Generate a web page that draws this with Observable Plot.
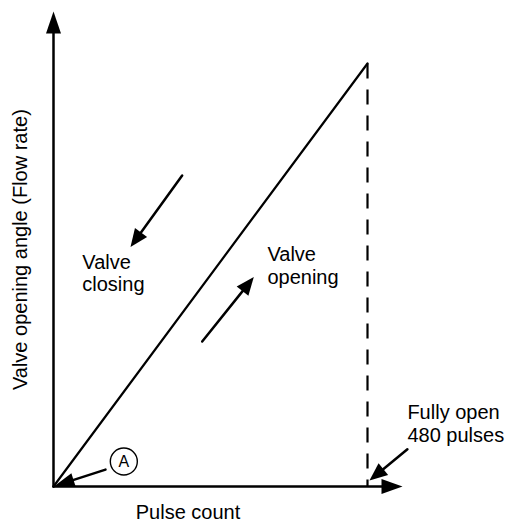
<!DOCTYPE html>
<html>
<head>
<meta charset="utf-8">
<script src="https://cdn.jsdelivr.net/npm/d3@7"></script>
<script src="https://cdn.jsdelivr.net/npm/@observablehq/plot@0.6"></script>
<style>
  html, body { margin: 0; padding: 0; background: #fff; }
  #chart svg { display: block; overflow: visible; }
</style>
</head>
<body>
<div id="chart"></div>
<script>
// ---- data (pulse count vs valve opening angle, % of full open) ----
const pulseCount = [0, 480];
const openingAngle = [0, 100];
const fullyOpenPulses = 480;
const axisLabels = ["Pulse count", "Valve opening angle (Flow rate)"];
const noteTexts = ["Valve\nclosing", "Valve\nopening", "Fully open\n480 pulses", "A"];

// annotation anchor points (data units)
const noteX = [44, 327, 541];
const noteY = [55.2, 57, 19.6];
// direction arrows (data units): closing, opening, A-pointer, fully-open pointer
const arrX1 = [196.7, 227.3, 79.5, 541];
const arrY1 = [73.5, 34.3, 4.0, 8.8];
const arrX2 = [117.7, 306.2, 1.5, 483];
const arrY2 = [56.6, 49.5, 0.1, 1.4];
const axisEnd = [533.5, 112.3];
const markerA = [107.5, 5.9];
const xLabelPos = [205.6, -7.6];
const yLabelPos = [-50.4, 56];

const xDomain = [0, 480], xRange = [53, 367];
const yDomain = [0, 100], yRange = [486, 63];
const xs = d3.scaleLinear(xDomain, xRange);
const ys = d3.scaleLinear(yDomain, yRange);

const FONT = "Liberation Sans, Arial, Helvetica, sans-serif";

// custom arrowhead symbol: tip at origin, pointing up
const head = (len, hw) => ({
  draw(ctx) { ctx.moveTo(0, 0); ctx.lineTo(hw, len); ctx.lineTo(-hw, len); ctx.closePath(); }
});
const angle = (x1, y1, x2, y2) => {
  const dx = xs(x2) - xs(x1), dy = ys(y2) - ys(y1);
  return Math.atan2(dx, -dy) * 180 / Math.PI;
};

const curve = pulseCount.map((p, i) => ({p, a: openingAngle[i]}));
const axes = [
  {x1: 0, y1: 0, x2: 0, y2: axisEnd[1], len: 22, hw: 7.5},
  {x1: 0, y1: 0, x2: axisEnd[0], y2: 0, len: 21, hw: 7.5}
];
const dirArrows = arrX1.map((x1, i) => ({
  x1, y1: arrY1[i], x2: arrX2[i], y2: arrY2[i],
  len: [18, 18, 20, 18][i], hw: [7.5, 7.5, 7, 7.5][i]
}));
const allArrows = axes.concat(dirArrows).map(d => ({...d, rot: angle(d.x1, d.y1, d.x2, d.y2)}));

const marks = [
  // shafts
  Plot.arrow(allArrows, {x1: "x1", y1: "y1", x2: "x2", y2: "y2", headLength: 0,
    insetEnd: 8, stroke: "black", strokeWidth: 2.5}),
  // main diagonal: pulse count vs opening angle
  Plot.line(curve, {x: "p", y: "a", stroke: "black", strokeWidth: 2.2}),
  // fully open dashed drop line
  Plot.link([fullyOpenPulses], {x1: d => d, y1: openingAngle[1], x2: d => d, y2: 0,
    stroke: "black", strokeWidth: 2.2, strokeDasharray: "15,11"}),
];
// arrowheads
allArrows.forEach(d => {
  marks.push(Plot.dot([d], {x: "x2", y: "y2", r: 5, symbol: head(d.len, d.hw),
    rotate: d.rot, fill: "black", stroke: "none"}));
});
marks.push(
  Plot.dot([markerA], {x: d => d[0], y: d => d[1], r: 13.5, fill: "white", stroke: "black", strokeWidth: 1.4}),
  Plot.text([markerA], {x: d => d[0], y: d => d[1], text: () => noteTexts[3], fontSize: 16,
    fontFamily: FONT, fill: "black"}),
  Plot.text(noteX.map((x, i) => ({x, y: noteY[i], t: noteTexts[i]})), {
    x: "x", y: "y", text: "t", textAnchor: "start", lineAnchor: "top", lineHeight: 1.12,
    fontSize: 20, fontFamily: FONT, fill: "black"}),
  Plot.text([axisLabels[0]], {x: xLabelPos[0], y: xLabelPos[1], text: d => d, lineAnchor: "bottom",
    fontSize: 20, fontFamily: FONT, fill: "black"}),
  Plot.text([axisLabels[1]], {x: yLabelPos[0], y: yLabelPos[1], text: d => d, rotate: -90,
    textAnchor: "middle", lineAnchor: "middle",
    fontSize: 20, fontFamily: FONT, fill: "black"})
);

const plot = Plot.plot({
  width: 512,
  height: 523,
  margin: 0,
  x: {domain: xDomain, range: xRange, axis: null},
  y: {domain: yDomain, range: yRange, axis: null},
  style: {background: "white", fontFamily: FONT},
  marks
});
document.getElementById("chart").appendChild(plot);
</script>
</body>
</html>
